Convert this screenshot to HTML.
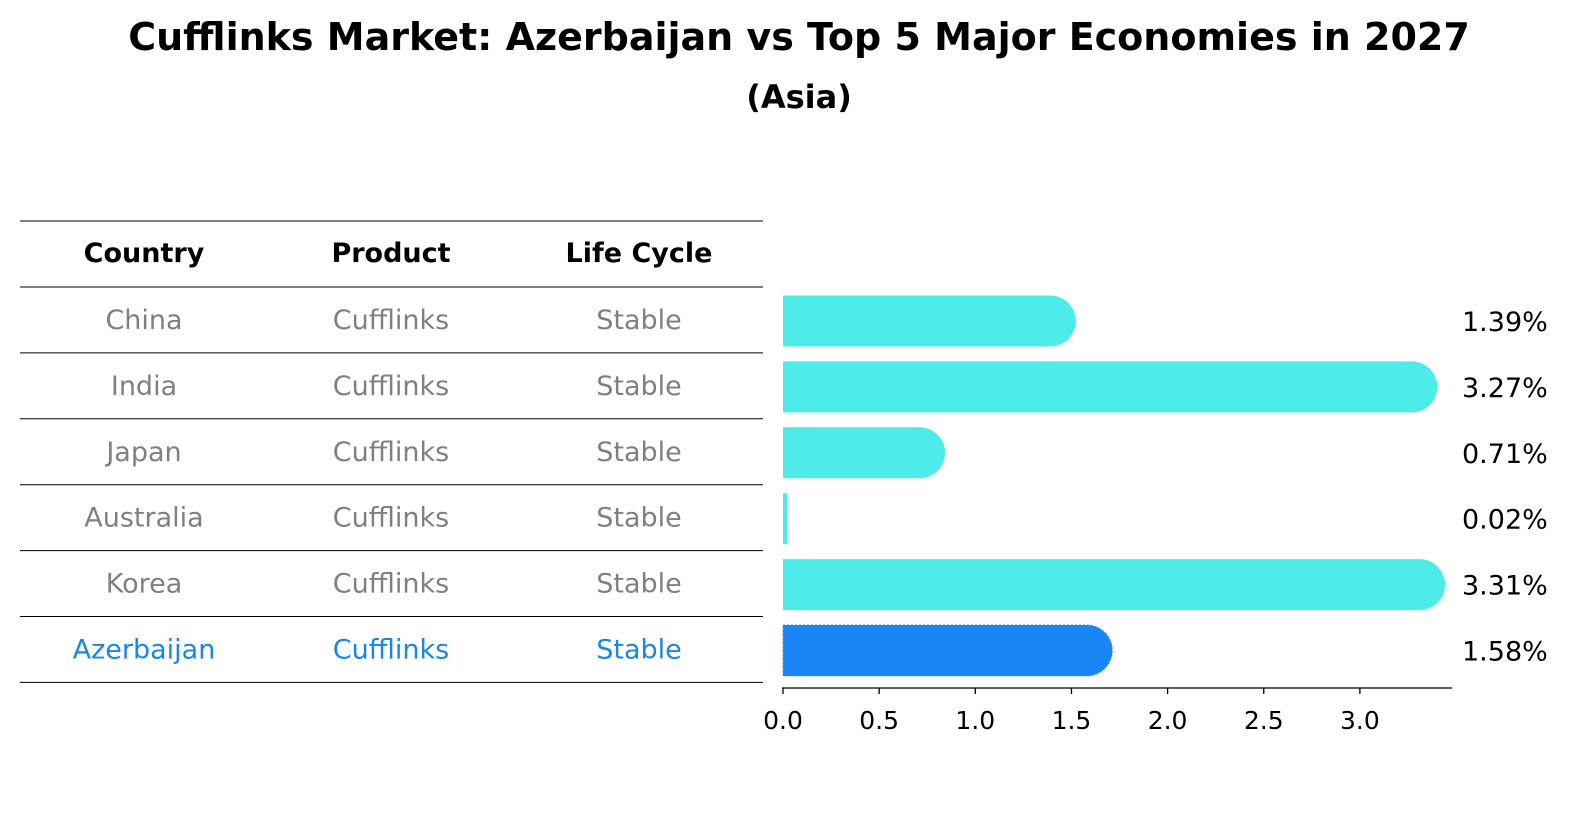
<!DOCTYPE html>
<html><head><meta charset="utf-8">
<style>
body{margin:0;background:#fff;font-family:"Liberation Sans","DejaVu Sans",sans-serif;}
svg text{font-family:"DejaVu Sans","Liberation Sans",sans-serif;}
</style></head>
<body>
<svg id="chart" width="1586" height="823" viewBox="0 0 1586 823" xmlns="http://www.w3.org/2000/svg">
<text x="799" y="50" text-anchor="middle" font-size="38" font-weight="bold">Cufflinks Market: Azerbaijan vs Top 5 Major Economies in 2027</text>
<text x="799" y="108" text-anchor="middle" font-size="32" font-weight="bold">(Asia)</text>
<g id="table"></g>
<g id="bars"></g>
</svg>
<script>
const countries=["China","India","Japan","Australia","Korea","Azerbaijan"];
const products=["Cufflinks","Cufflinks","Cufflinks","Cufflinks","Cufflinks","Cufflinks"];
const lifeCycles=["Stable","Stable","Stable","Stable","Stable","Stable"];
const values=[1.39,3.27,0.71,0.02,3.31,1.58];
const tickLabels=["0.0","0.5","1.0","1.5","2.0","2.5","3.0"];
const tickValues=[0,0.5,1,1.5,2,2.5,3];

const NS="http://www.w3.org/2000/svg";
function mk(tag,attrs,parent,text){const e=document.createElementNS(NS,tag);for(const k in attrs)e.setAttribute(k,attrs[k]);if(text!==undefined)e.textContent=text;parent.appendChild(e);return e;}
const x0=783,pxPer=192.3;
const xs=v=>x0+v*pxPer;
const rowY=i=>320+i*65.9;
const tbl=document.getElementById('table');
const bars=document.getElementById('bars');
const lineYs=[221,287];
for(let i=0;i<countries.length;i++)lineYs.push(287+(i+1)*65.9);
lineYs.forEach((y,i)=>{
 const l=mk('line',{x1:20,x2:763,y1:y,y2:y,stroke:'#000','stroke-width':1},tbl);
 
 
});
const colX=[144,391,639];
["Country","Product","Life Cycle"].forEach((h,j)=>{
 const t=mk('text',{x:colX[j],y:262,'text-anchor':'middle','font-size':27,'font-weight':'bold'},tbl,h);
 
 
});
countries.forEach((c,i)=>{
 const col=i===countries.length-1?'#1a86e8':'#808080';
 [c,products[i],lifeCycles[i]].forEach((v,j)=>{
  const t=mk('text',{x:colX[j],y:rowY(i)+9,'text-anchor':'middle','font-size':27,fill:col},tbl,v);
  
  
 });
 const h=51,r=25.5,yc=rowY(i)+1;
 const xe=xs(values[i]);
 const hl=i===countries.length-1;
 const fill=hl?'#1a86f5':'#4dece9';
 let d;
 if(values[i]<0.05){d=`M${x0} ${yc-h/2}h4v${h}h-4z`;}
 else d=`M${x0} ${yc-h/2}H${xe}A${r} ${r} 0 0 1 ${xe} ${yc+h/2}H${x0}Z`;
 const p=mk('path',{d:d,fill:fill},bars);
 if(hl){p.setAttribute('stroke','#4a8fd8');p.setAttribute('stroke-dasharray','2 2');p.setAttribute('stroke-width','1');}
 
 
 const lt=mk('text',{x:1462,y:yc+10,'font-size':27},bars,values[i].toFixed(2)+'%');
 
 
});
const ax=mk('line',{x1:782,x2:1452,y1:688,y2:688,stroke:'#000','stroke-width':1.3},bars);


tickValues.forEach((v,i)=>{
 const tk=mk('line',{x1:xs(v),x2:xs(v),y1:688,y2:694,stroke:'#000','stroke-width':1.3},bars);
 
 
 const t=mk('text',{x:xs(v),y:729,'text-anchor':'middle','font-size':25},bars,tickLabels[i]);
 
 
});
</script>
</body></html>
